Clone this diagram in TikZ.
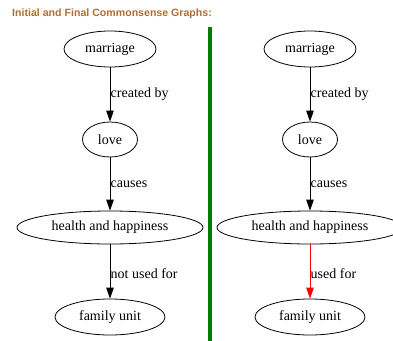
\documentclass[tikz,border=0pt]{standalone}
\usepackage{fontspec}
\setmainfont{Liberation Serif}
\newfontfamily\titlefont{Liberation Sans}
\usetikzlibrary{shapes.geometric,arrows.meta}
\definecolor{titlebrown}{RGB}{178,110,52}
\definecolor{bargreen}{RGB}{0,128,0}
\tikzset{
  concept/.style={draw, ellipse, line width=0.8pt, inner sep=0pt, font=\fontsize{14}{16}\selectfont},
  rel/.style={line width=0.9pt, -{Triangle[length=11pt,width=7.5pt]}},
  newrel/.style={rel, red},
  rellabel/.style={anchor=west, inner sep=0.5pt, font=\fontsize{14}{16}\selectfont},
}
\begin{document}
\begin{tikzpicture}[x=1pt,y=-1pt]
\clip (0,0) rectangle (393,340);
\node[anchor=base west, inner sep=0pt, text=titlebrown, font=\titlefont\bfseries\fontsize{10.6}{12}\selectfont] (title) at (12,16.5) {Initial and Final Commonsense Graphs:};
\draw[bargreen, line width=4pt] (209.5,27) -- (209.5,345);
% left graph
\node[concept, minimum width=92pt, minimum height=36pt] (m1) at (110,49) {marriage};
\node[concept, minimum width=55pt, minimum height=35pt] (l1) at (110,139.5) {love};
\node[concept, minimum width=186pt, minimum height=33pt] (h1) at (110,227.5) {health and happiness};
\node[concept, minimum width=110pt, minimum height=36pt] (f1) at (110,317) {family unit};
\draw[rel] (m1) -- (l1);
\draw[rel] (l1) -- (h1);
\draw[rel] (h1) -- (f1);
\node[rellabel] (c1) at (110,94.5) {created by};
\node[rellabel] (c2) at (110,184.5) {causes};
\node[rellabel] (c3) at (110,273.5) {not used for};
% right graph
\node[concept, minimum width=92pt, minimum height=36pt] (m2) at (310,49) {marriage};
\node[concept, minimum width=55pt, minimum height=35pt] (l2) at (310,139.5) {love};
\node[concept, minimum width=186pt, minimum height=33pt] (h2) at (310,227.5) {health and happiness};
\node[concept, minimum width=110pt, minimum height=36pt] (f2) at (310,317) {family unit};
\draw[rel] (m2) -- (l2);
\draw[rel] (l2) -- (h2);
\draw[newrel] (h2) -- (f2);
\node[rellabel] (d1) at (310,94.5) {created by};
\node[rellabel] (d2) at (310,184.5) {causes};
\node[rellabel] (d3) at (310,273.5) {used for};
\end{tikzpicture}
\end{document}
